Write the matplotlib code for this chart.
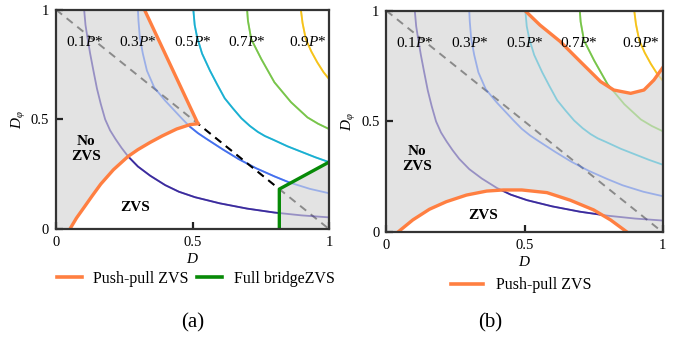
import matplotlib.pyplot as plt
from matplotlib.lines import Line2D

plt.rcParams['font.family'] = 'Liberation Serif'
plt.rcParams['mathtext.fontset'] = 'custom'
plt.rcParams['mathtext.rm'] = 'Liberation Serif'
plt.rcParams['mathtext.it'] = 'Liberation Serif:italic'

# constant power contours (D, D_phi), same in both panels
p01_d = [0.103, 0.108, 0.115, 0.125, 0.137, 0.150, 0.164, 0.180, 0.198, 0.218, 0.240, 0.264,
         0.300, 0.345, 0.400, 0.450, 0.509, 0.600, 0.700, 0.800, 0.900, 1.0]
p01_phi = [1.0, 0.93, 0.874, 0.80, 0.722, 0.64, 0.57, 0.50, 0.45, 0.41, 0.37, 0.331,
           0.285, 0.243, 0.200, 0.170, 0.145, 0.117, 0.093, 0.075, 0.062, 0.053]
p03_d = [0.300, 0.302, 0.307, 0.318, 0.333, 0.360, 0.380, 0.400, 0.430, 0.460, 0.490, 0.520,
         0.550, 0.612, 0.670, 0.733, 0.800, 0.855, 0.930, 1.0]
p03_phi = [1.0, 0.95, 0.874, 0.80, 0.722, 0.645, 0.615, 0.585, 0.545, 0.505, 0.467, 0.437,
           0.412, 0.362, 0.318, 0.277, 0.240, 0.212, 0.183, 0.163]
p05_d = [0.503, 0.508, 0.517, 0.535, 0.564, 0.590, 0.618, 0.648, 0.679, 0.710, 0.739, 0.765,
         0.794, 0.848, 0.903, 0.950, 1.0]
p05_phi = [1.0, 0.93, 0.874, 0.80, 0.722, 0.66, 0.596, 0.55, 0.505, 0.47, 0.443, 0.424,
           0.408, 0.377, 0.35, 0.327, 0.305]
p07_d = [0.700, 0.703, 0.715, 0.752, 0.800, 0.861, 0.921, 0.960, 1.0]
p07_phi = [1.0, 0.95, 0.866, 0.775, 0.669, 0.578, 0.509, 0.48, 0.456]
p09_d = [0.897, 0.903, 0.915, 0.935, 0.957, 0.980, 1.0]
p09_phi = [1.0, 0.94, 0.866, 0.81, 0.76, 0.715, 0.684]

curve_labels = ['0.1', '0.3', '0.5', '0.7', '0.9']
label_d = [0.103, 0.30, 0.50, 0.697, 0.92]

# (a) push-pull ZVS boundary
a_upper_d = [0.324, 0.52]
a_upper_phi = [1.0, 0.48]
a_lower_d = [0.051, 0.075, 0.103, 0.133, 0.164, 0.210, 0.264, 0.300, 0.345, 0.390, 0.442,
             0.491, 0.52]
a_lower_phi = [0.0, 0.05, 0.099, 0.152, 0.205, 0.27, 0.331, 0.362, 0.395, 0.425, 0.456,
               0.476, 0.48]
# (a) full bridge ZVS boundary
fb_d = [0.818, 0.818, 1.0]
fb_phi = [0.0, 0.182, 0.305]

# (b) push-pull ZVS boundaries
b_top_d = [0.502, 0.556, 0.629, 0.702, 0.775, 0.823, 0.884, 0.932, 0.968, 1.0]
b_top_phi = [1.0, 0.935, 0.861, 0.77, 0.68, 0.642, 0.627, 0.642, 0.687, 0.743]
b_low_d = [0.041, 0.096, 0.156, 0.217, 0.290, 0.363, 0.423, 0.490, 0.581, 0.665, 0.750,
           0.811, 0.872]
b_low_phi = [0.0, 0.056, 0.104, 0.138, 0.168, 0.186, 0.191, 0.191, 0.179, 0.145, 0.101,
             0.056, 0.0]

curves = [(p01_d, p01_phi, '#3b2b9e'), (p03_d, p03_phi, '#4470ee'),
          (p05_d, p05_phi, '#1ab0d2'), (p07_d, p07_phi, '#78c54a'),
          (p09_d, p09_phi, '#f6c31a')]

orange = '#ff7f41'
green = '#078a07'
grey_bg = '#e3e3e3'


def setup(ax):
    ax.set_xlim(0, 1)
    ax.set_ylim(0, 1)
    ax.set_facecolor(grey_bg)
    ax.set_xticks([0, 0.5, 1])
    ax.set_xticklabels(['0', '0.5', '1'])
    ax.set_yticks([0, 0.5, 1])
    ax.set_yticklabels(['0', '0.5', '1'])
    ax.tick_params(direction='in', length=5, width=1.6, labelsize=10.5, color='#222222', pad=5)
    for s in ax.spines.values():
        s.set_color('#333333')
        s.set_linewidth(1.6)
        s.set_zorder(10)
    ax.set_xlabel('$D$', fontsize=11, labelpad=2)
    ax.set_ylabel(r'$D_{\varphi}$', fontsize=11, labelpad=2)
    for lab, x in zip(curve_labels, label_d):
        ax.text(x, 0.855, lab + '$P$*', fontsize=11, ha='center', va='center', zorder=8)


def draw_curves(ax, white_patches):
    for d, phi, c in curves:
        ax.plot(d, phi, color=c, lw=1.3, alpha=0.45, zorder=3)
        for wp in white_patches:
            line, = ax.plot(d, phi, color=c, lw=1.3, zorder=4)
            line.set_clip_path(wp)


fig = plt.figure(figsize=(6.84, 3.37), dpi=100)
ax1 = fig.add_axes([0.0819, 0.3205, 0.3991, 0.6507])
ax2 = fig.add_axes([0.5648, 0.3107, 0.4041, 0.6576])

# panel (a)
setup(ax1)
white_a_d = a_upper_d + a_lower_d[::-1] + fb_d + [1.0]
white_a_phi = a_upper_phi + a_lower_phi[::-1] + fb_phi + [1.0]
white_a = ax1.fill(white_a_d, white_a_phi, color='white', lw=0, zorder=1)[0]
ax1.plot([0, 1], [1, 0], color='#8a8a8a', lw=1.4, ls=(0, (4, 3)), zorder=2)
draw_curves(ax1, [white_a])
diag, = ax1.plot([0, 1], [1, 0], color='black', lw=1.4, ls=(0, (4, 3)), zorder=5)
diag.set_clip_path(white_a)
ax1.plot(a_upper_d, a_upper_phi, color=orange, lw=2.4, zorder=6, solid_capstyle='butt')
ax1.plot(a_lower_d, a_lower_phi, color=orange, lw=2.4, zorder=6)
ax1.plot(fb_d, fb_phi, color=green, lw=2.4, zorder=6)
ax1.text(0.11, 0.365, 'No\nZVS', fontsize=11, fontweight='bold', ha='center', va='center',
         linespacing=1.2, zorder=8)
ax1.text(0.29, 0.10, 'ZVS', fontsize=11, fontweight='bold', ha='center', va='center', zorder=8)

# panel (b)
setup(ax2)
white_b1 = ax2.fill(b_low_d, b_low_phi, color='white', lw=0, zorder=1)[0]
white_b2 = ax2.fill(b_top_d + [1.0], b_top_phi + [1.0], color='white', lw=0, zorder=1)[0]
ax2.plot([0, 1], [1, 0], color='#8a8a8a', lw=1.4, ls=(0, (4, 3)), zorder=2)
draw_curves(ax2, [white_b1, white_b2])
ax2.plot(b_top_d, b_top_phi, color=orange, lw=2.4, zorder=6)
ax2.plot(b_low_d, b_low_phi, color=orange, lw=2.4, zorder=6)
ax2.text(0.11, 0.33, 'No\nZVS', fontsize=11, fontweight='bold', ha='center', va='center',
         linespacing=1.2, zorder=8)
ax2.text(0.35, 0.075, 'ZVS', fontsize=11, fontweight='bold', ha='center', va='center', zorder=8)

# legends
h_pp = Line2D([], [], color=orange, lw=2.6)
h_fb = Line2D([], [], color=green, lw=2.6)
fig.legend([h_pp, h_fb], ['Push-pull ZVS', 'Full bridgeZVS'], loc='center',
           bbox_to_anchor=(0.286, 0.172), ncol=2, frameon=False, fontsize=11.5,
           handlelength=1.6, columnspacing=0.5, handletextpad=0.7)
fig.legend([h_pp], ['Push-pull ZVS'], loc='center', bbox_to_anchor=(0.762, 0.154),
           frameon=False, fontsize=11.5, handlelength=2.0, handletextpad=0.8)

fig.text(0.281, 0.042, '(a)', fontsize=15, ha='center', va='center')
fig.text(0.716, 0.042, '(b)', fontsize=15, ha='center', va='center')

fig.savefig('out.png', dpi=100)
